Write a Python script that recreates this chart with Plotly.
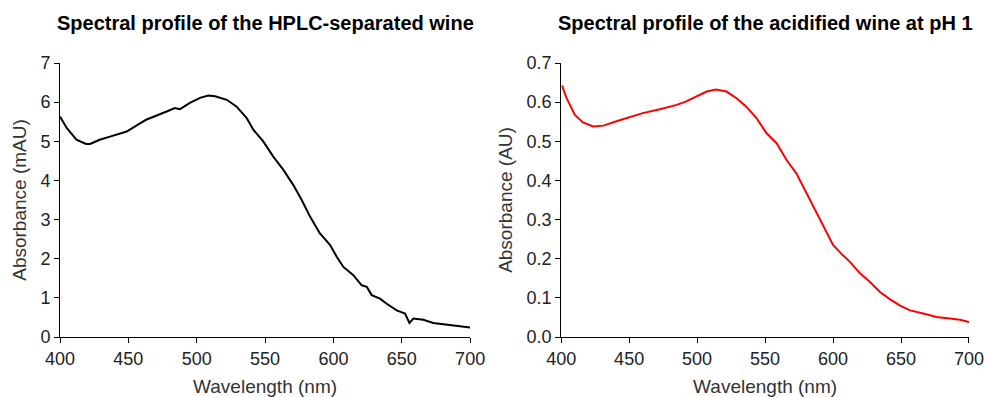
import plotly.graph_objects as go

# Left panel: HPLC-separated wine (mAU)
wl_hplc = [400, 404.9, 412, 419, 422, 429, 436.6, 448.8, 458.5, 463, 478, 484, 487.8, 495,
           502.4, 508.5, 513.4, 522, 529, 536.6, 541.5, 548.8, 556, 563.4, 570.7, 576.8,
           583, 590, 597.6, 602.4, 607.3, 614.6, 620.7, 624.4, 628, 634, 639, 646.3,
           652.4, 655.6, 658.5, 665.8, 673, 683, 692.7, 700]
abs_hplc = [5.63, 5.34, 5.04, 4.93, 4.93, 5.04, 5.12, 5.25, 5.46, 5.55, 5.76, 5.85, 5.82, 5.98,
            6.11, 6.17, 6.15, 6.06, 5.89, 5.59, 5.29, 4.99, 4.61, 4.27, 3.88, 3.50,
            3.07, 2.65, 2.35, 2.05, 1.79, 1.58, 1.32, 1.28, 1.07, 0.98, 0.85, 0.68,
            0.60, 0.36, 0.47, 0.44, 0.36, 0.32, 0.27, 0.24]

# Right panel: acidified wine at pH 1 (AU)
wl_acid = [400.7, 404, 410, 416, 423.5, 431, 440.7, 448, 460, 472.6, 485, 492, 499.6, 507,
           514, 521.7, 529, 536, 543.7, 551, 558.5, 565.8, 573, 583, 590, 595, 600, 606,
           612.4, 620, 627, 634.5, 642, 649, 656.6, 666.4, 676, 686, 693.4, 700]
abs_acid = [0.642, 0.610, 0.568, 0.548, 0.538, 0.540, 0.551, 0.559, 0.572, 0.582, 0.593, 0.602,
            0.615, 0.627, 0.632, 0.627, 0.610, 0.589, 0.559, 0.521, 0.495, 0.452, 0.418,
            0.350, 0.303, 0.269, 0.235, 0.213, 0.192, 0.162, 0.141, 0.115, 0.096, 0.081,
            0.068, 0.060, 0.051, 0.047, 0.044, 0.038]

titles = ["Spectral profile of the HPLC-separated wine",
          "Spectral profile of the acidified wine at pH 1"]
y_titles = ["Absorbance (mAU)", "Absorbance (AU)"]
x_title = "Wavelength (nm)"

W, H = 986, 397
FONT = "Liberation Sans, Arial, sans-serif"

# plot area in pixels
L, R, T, B = 60, 968.7, 63.3, 336.7
PW, PH = R - L, B - T

fig = go.Figure()
fig.add_trace(go.Scatter(x=wl_hplc, y=abs_hplc, mode="lines",
                         line=dict(color="black", width=2), xaxis="x", yaxis="y",
                         showlegend=False))
fig.add_trace(go.Scatter(x=wl_acid, y=abs_acid, mode="lines",
                         line=dict(color="#ff0000", width=2), xaxis="x2", yaxis="y2",
                         showlegend=False))

common_axis = dict(showgrid=False, zeroline=False, showline=True, linecolor="black",
                   linewidth=1, ticks="outside", ticklen=5, tickcolor="black", tickwidth=1,
                   tickfont=dict(family=FONT, size=18, color="#222"), mirror=False,
                   automargin=False)
tfont = dict(family=FONT, size=19, color="#333")

fig.update_layout(
    width=W, height=H,
    margin=dict(l=L, r=W - R, t=T, b=H - B, autoexpand=False),
    paper_bgcolor="white", plot_bgcolor="white",
    xaxis=dict(domain=[0, (470 - L) / PW], range=[400, 700], dtick=50, anchor="y",
               title=dict(text=x_title, font=tfont, standoff=12), **common_axis),
    yaxis=dict(domain=[0, 1], range=[0, 7], dtick=1, anchor="x",
               title=dict(text=y_titles[0], font=tfont, standoff=8), **common_axis),
    xaxis2=dict(domain=[(561 - L) / PW, 1], range=[400, 700], dtick=50, anchor="y2",
                title=dict(text=x_title, font=tfont, standoff=12), **common_axis),
    yaxis2=dict(domain=[0, 1], range=[0, 0.7], dtick=0.1, tickformat=".1f", anchor="x2",
                title=dict(text=y_titles[1], font=tfont, standoff=8), **common_axis),
)

centers = [((60 + 470) / 2 - L) / PW, ((561 + 968.7) / 2 - L) / PW]
for t, cx in zip(titles, centers):
    fig.add_annotation(text="<b>" + t + "</b>", x=cx, y=(B - 23) / PH, xref="paper", yref="paper",
                       showarrow=False, xanchor="center", yanchor="middle",
                       font=dict(family=FONT, size=20, color="black"))

fig.write_html("out.html", config={"displayModeBar": False},
               post_script="document.body.style.margin='0px';document.body.style.overflow='hidden';")
